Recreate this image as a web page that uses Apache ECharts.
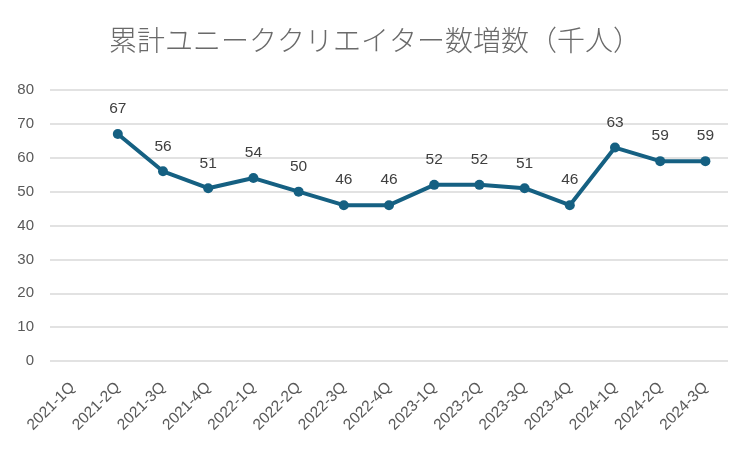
<!DOCTYPE html>
<html>
<head>
<meta charset="utf-8">
<script src="https://cdn.jsdelivr.net/npm/echarts@6/dist/echarts.min.js"></script>
<style>
html, body { margin: 0; padding: 0; background: #fff; }
#main { width: 750px; height: 450px; }
</style>
</head>
<body>
<div id="main"></div>
<script>
// 四半期ラベル
var quarters = ['2021-1Q', '2021-2Q', '2021-3Q', '2021-4Q', '2022-1Q', '2022-2Q', '2022-3Q', '2022-4Q',
    '2023-1Q', '2023-2Q', '2023-3Q', '2023-4Q', '2024-1Q', '2024-2Q', '2024-3Q'];
// 累計ユニーククリエイター数増数（千人）
var creators = [null, 67, 56, 51, 54, 50, 46, 46, 52, 52, 51, 46, 63, 59, 59];
var yTicks = { min: 0, max: 80, interval: 10 };

var chart = echarts.init(document.getElementById('main'));
chart.setOption({
    animation: false,
    title: {
        text: '累計ユニーククリエイター数増数（千人）',
        left: 'center',
        top: 21,
        textStyle: {
            fontFamily: 'Noto Sans CJK JP',
            fontSize: 28,
            fontWeight: 300,
            color: '#6a6a6a'
        }
    },
    grid: {
        left: 50,
        right: 22,
        top: 90,
        bottom: 89
    },
    xAxis: {
        type: 'category',
        data: quarters,
        boundaryGap: true,
        axisLine: { show: false },
        axisTick: { show: false },
        axisLabel: {
            rotate: 45,
            interval: 0,
            margin: 24,
            fontFamily: 'Liberation Sans',
            fontSize: 15.5,
            color: '#595959'
        }
    },
    yAxis: {
        type: 'value',
        min: yTicks.min,
        max: yTicks.max,
        interval: yTicks.interval,
        axisLine: { show: false },
        axisTick: { show: false },
        axisLabel: {
            margin: 16,
            fontFamily: 'Liberation Sans',
            fontSize: 15,
            color: '#595959'
        },
        splitLine: { lineStyle: { color: '#d9d9d9', width: 1.5 } }
    },
    series: [{
        type: 'line',
        data: creators,
        symbol: 'circle',
        symbolSize: 10,
        color: '#156082',
        lineStyle: { width: 4, color: '#156082' },
        itemStyle: { color: '#156082' },
        label: {
            show: true,
            position: 'top',
            distance: 12,
            fontFamily: 'Liberation Sans',
            fontSize: 15.5,
            color: '#404040'
        }
    }]
});
</script>
</body>
</html>
